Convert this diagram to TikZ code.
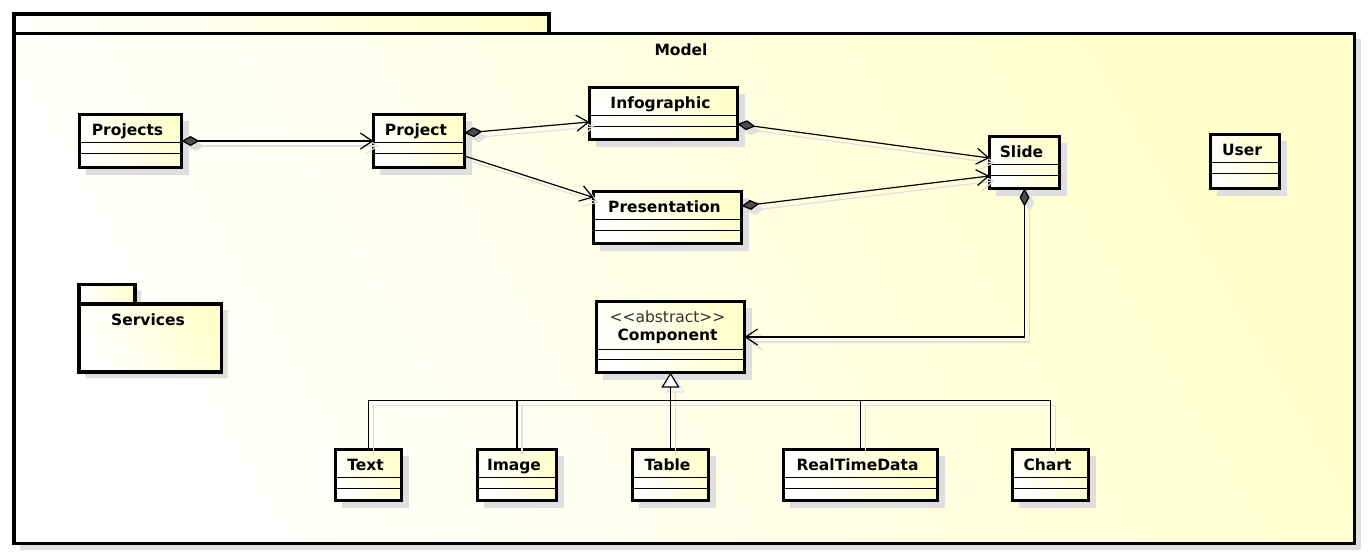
\documentclass[tikz,border=0pt]{standalone}
\usepackage{fontspec}
\setmainfont{DejaVu Sans}
\usepackage{tikz}
\usetikzlibrary{arrows.meta}
\usetikzlibrary{calc}
\definecolor{jaunemodele}{HTML}{FFFFCC}

\begin{document}
\begin{tikzpicture}[x=1pt,y=-1pt]
% définition des paramètres
\tikzstyle ombremodele=[fill=black!13]
\tikzstyle cadremodele=[draw=black,line width=3.4pt,top color=jaunemodele,bottom color=white,shading angle=-60]
\tikzstyle ongletmodele=[draw=black,line width=3.4pt,left color=white,right color=jaunemodele]
\tikzstyle boiteclasse=[draw=black,line width=3.2pt,top color=jaunemodele,bottom color=white,shading angle=-60,inner sep=0pt,outer sep=0pt]
\tikzstyle compartiment=[draw=black,line width=1pt]
\tikzstyle nomclasse=[anchor=base,inner sep=0pt,font=\fontsize{15.5}{18}\selectfont\bfseries]
\tikzstyle stereotype=[anchor=base,inner sep=0pt,font=\fontsize{15.5}{18}\selectfont,text=black!80]
\tikzstyle lien=[draw=black,line width=1.2pt]
\tikzstyle ombrelien=[draw=black!12,line width=1.2pt,transform canvas={shift={(5pt,-5pt)}}]
\tikzset{compo/.style={{Diamond[length=18pt,width=10pt,fill=#1]}-{Straight Barb[length=12pt,width=16pt]}},
  navig/.style={-{Straight Barb[length=12pt,width=16pt]}},
  herit/.style={-{Triangle[length=15pt,width=18pt,fill=white]}}}
\newcommand{\classemodele}[6]{% nom, x, y, largeur, hauteur, texte
  \fill[ombremodele] (#2+6,#3+6) rectangle ++(#4+1.5,#5+1.5);
  \node[boiteclasse,minimum width=#4,minimum height=#5] (#1) at (#2+#4/2,#3+#5/2) {};
  \node[nomclasse] (#1-nom) at (#2+#4/2-3,#3+20.5) {#6};
  \draw[compartiment] (#2,#3+28) -- ++(#4,0) (#2,#3+38.5) -- ++(#4,0);
}
\useasboundingbox (0,0) rectangle (1368,558);
% le cadre Model
\fill[ombremodele] (20,39.3) rectangle (1360.5,549.5);
\shadedraw[ongletmodele] (14,14) rectangle (549,33.3);
\shadedraw[cadremodele] (14,33.3) rectangle (1354.5,543.5);
\node[nomclasse] (titremodele) at (681,55) {Model};
% le paquet Services
\fill[ombremodele] (85,290.3) rectangle (141,310) (85,310) rectangle (227.7,378);
\shadedraw[ongletmodele,line width=3.2pt] (79,284.3) rectangle (135,304);
\node[boiteclasse,minimum width=142.7,minimum height=68] (services) at (150.35,338) {};
\node[nomclasse] (services-nom) at (148,325) {Services};
% les classes
\foreach \nom/\x/\y/\l/\h/\texte in {projects/79.5/114.5/102/53/Projects,
    project/373.5/114.5/91/53/Project,
    infographic/589.5/87.5/148/52/Infographic,
    presentation/593.5/191.5/148/52/Presentation,
    slide/989.5/136.5/70/52/Slide,
    user/1210.5/134.5/69/54/User,
    text/335.5/449.5/66/51/Text,
    image/477.5/449.5/79/51/Image,
    table/632.5/449.5/76/51/Table,
    realtimedata/783.5/449.5/154/51/RealTimeData,
    chart/1012.5/449.5/76/51/Chart}
  \classemodele{\nom}{\x}{\y}{\l}{\h}{\texte};
% la classe abstraite
\fill[ombremodele] (602.5,307.5) rectangle ++(149.5,72.5);
\node[boiteclasse,minimum width=148,minimum height=71] (component) at (670.5,337) {};
\node[stereotype] (component-stereo) at (667.5,322) {<\kern0pt<abstract>\kern0pt>};
\node[nomclasse] (component-nom) at (667.5,340) {Component};
\draw[compartiment] (596.5,349) -- ++(148,0) (596.5,359) -- ++(148,0);
% les liens (ombre puis trait)
\coordinate (jonction) at ($(component.south)+(0,28)$);
\foreach \passe/\teinte in {ombrelien/black!12,lien/black!70}{
  \draw[\passe,compo=\teinte] (projects.east) -- (project.west);
  \draw[\passe,compo=\teinte] ($(project.east)+(0,-8)$) -- ($(infographic.west)+(0,8.5)$);
  \draw[\passe,navig] ($(project.east)+(0,15)$) -- ($(presentation.west)+(0,-20)$);
  \draw[\passe,compo=\teinte] ($(infographic.east)+(0,10.5)$) -- ($(slide.west)+(0,-4.5)$);
  \draw[\passe,compo=\teinte] ($(presentation.east)+(0,-11.5)$) -- ($(slide.west)+(0,13.5)$);
  \draw[\passe,compo=\teinte] (slide.south) |- (component.east);
  \draw[\passe,herit] (table.north) -- (component.south);
  \foreach \sousclasse in {text,image,realtimedata,chart}
    \draw[\passe] (\sousclasse.north) |- (jonction);
}
\end{tikzpicture}
\end{document}
